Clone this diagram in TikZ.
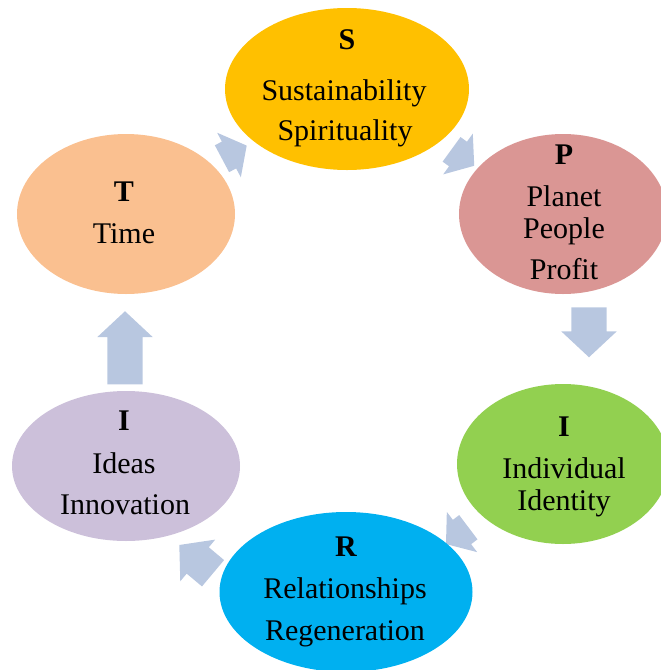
\documentclass[tikz,border=0pt]{standalone}
\usepackage{fontspec}
\setmainfont{Liberation Serif}
\usetikzlibrary{shapes.geometric,shapes.arrows}
\definecolor{cS}{HTML}{FFC000}
\definecolor{cP}{HTML}{DA9694}
\definecolor{cT}{HTML}{FAC090}
\definecolor{cIr}{HTML}{92D050}
\definecolor{cR}{HTML}{00B0F0}
\definecolor{cIl}{HTML}{CCC0DA}
\definecolor{arr}{HTML}{B8C7E0}
\newcommand{\shaft}[1]{\rule{0pt}{#1}}
\begin{document}
\begin{tikzpicture}[x=1pt,y=-1pt,
  blob/.style={ellipse, draw=none, inner sep=0},
  txt/.style={anchor=base, inner sep=0, font=\fontsize{30}{36}\selectfont},
  ttl/.style={anchor=base, inner sep=0, font=\fontsize{30}{36}\selectfont\bfseries},
  blockarrow/.style={single arrow, draw=none, fill=arr, inner sep=0, outer sep=0,
    single arrow head extend=10pt},
  bigarrow/.style={blockarrow, single arrow tip angle=94},
  smallarrow/.style={blockarrow, minimum height=28pt, single arrow tip angle=103},
  midarrow/.style={blockarrow, minimum height=44pt, single arrow tip angle=97}
]
\useasboundingbox (0,0) rectangle (661,670);
\clip (0,0) rectangle (661,670);
% arrows
\node[bigarrow, minimum height=50pt, rotate=-90] (aPI) at (589,324) {\shaft{35pt}};
\node[bigarrow, minimum height=73pt, rotate=90] (aIT) at (125,356) {\shaft{35pt}};
\node[smallarrow, rotate=28] (aTS) at (229,155) {\shaft{30pt}};
\node[smallarrow, rotate=-36] (aSP) at (458,154) {\shaft{30pt}};
\node[smallarrow, rotate=-143] (aIR) at (462,532) {\shaft{30pt}};
\node[midarrow, rotate=140] (aRI) at (202,564) {\shaft{34pt}};
% ellipses
\node[blob, fill=cS, minimum width=244pt, minimum height=162pt] (S) at (347,89) {};
\node[blob, fill=cP, minimum width=208pt, minimum height=160pt] (P) at (563,214) {};
\node[blob, fill=cT, minimum width=218pt, minimum height=160pt] (T) at (126,214) {};
\node[blob, fill=cIr, minimum width=212pt, minimum height=160pt] (Ir) at (563,464) {};
\node[blob, fill=cR, minimum width=253pt, minimum height=160pt] (R) at (346,592) {};
\node[blob, fill=cIl, minimum width=228pt, minimum height=150pt] (Il) at (126,466) {};
% texts
\node[ttl] (tS) at (347,49) {S};
\node[txt] (tS1) at (344,100) {Sustainability};
\node[txt] (tS2) at (345,140) {Spirituality};
\node[ttl] (tP) at (564,164) {P};
\node[txt] (tP1) at (564,206) {Planet};
\node[txt] (tP2) at (564,238) {People};
\node[txt] (tP3) at (564,279) {Profit};
\node[ttl] (tT) at (124,201) {T};
\node[txt] (tT1) at (124,243) {Time};
\node[ttl] (tIr) at (564,436) {I};
\node[txt] (tIr1) at (564,478) {Individual};
\node[txt] (tIr2) at (564,510) {Identity};
\node[ttl] (tR) at (346,556) {R};
\node[txt] (tR1) at (345,598) {Relationships};
\node[txt] (tR2) at (345,640) {Regeneration};
\node[ttl] (tIl) at (124,430) {I};
\node[txt] (tIl1) at (124,473) {Ideas};
\node[txt] (tIl2) at (125,514) {Innovation};
\end{tikzpicture}
\end{document}
